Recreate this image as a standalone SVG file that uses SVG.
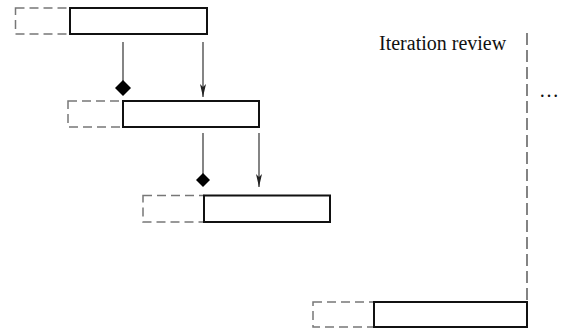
<svg xmlns="http://www.w3.org/2000/svg" width="561" height="333" viewBox="0 0 561 333">
<defs>
<style>
.solid{fill:#fff;stroke:#111;stroke-width:2}
.dash{fill:none;stroke:#777;stroke-width:1.5;stroke-dasharray:9,5}
.conn{fill:none;stroke:#333;stroke-width:1.2}
.dia{fill:#000}
.txt{font-family:"Liberation Serif","Times New Roman",serif;font-size:20px;fill:#111}
.review{fill:none;stroke:#777;stroke-width:1.8;stroke-dasharray:12,5}
</style>
<marker id="arr" markerWidth="14" markerHeight="6" refX="13" refY="3" orient="auto" markerUnits="userSpaceOnUse" viewBox="0 0 14 6">
<path d="M0,0 L13,3 L0,6 L3,3 Z" fill="#222"/>
</marker>
</defs>
<rect width="561" height="333" fill="#fff"/>
<g id="review-line">
<line class="review" x1="527" y1="33" x2="527" y2="302"/>
<text class="txt" x="379" y="50">Iteration review</text>
<text class="txt" x="539" y="97">…</text>
</g>
<g id="connectors">
<line class="conn" x1="123" y1="42" x2="123" y2="82"/>
<path class="dia" d="M123,80 L131,88 L123,96 L115,88 Z"/>
<line class="conn" x1="203" y1="42" x2="203" y2="97" marker-end="url(#arr)"/>
<line class="conn" x1="203" y1="133" x2="203" y2="175"/>
<path class="dia" d="M203,173 L210,180 L203,187 L196,180 Z"/>
<line class="conn" x1="259" y1="133" x2="259" y2="187" marker-end="url(#arr)"/>
</g>
<g id="iteration-1">
<rect class="dash" x="15.5" y="8" width="54.5" height="26"/>
<rect class="solid" x="70" y="8" width="137" height="26"/>
</g>
<g id="iteration-2">
<rect class="dash" x="68" y="101" width="55" height="26"/>
<rect class="solid" x="123" y="101" width="136" height="26"/>
</g>
<g id="iteration-3">
<rect class="dash" x="143" y="195.5" width="61" height="26.5"/>
<rect class="solid" x="204" y="195.5" width="126" height="26.5"/>
</g>
<g id="iteration-4">
<rect class="dash" x="313" y="302" width="61" height="25"/>
<rect class="solid" x="374" y="302" width="153" height="25"/>
</g>
</svg>
